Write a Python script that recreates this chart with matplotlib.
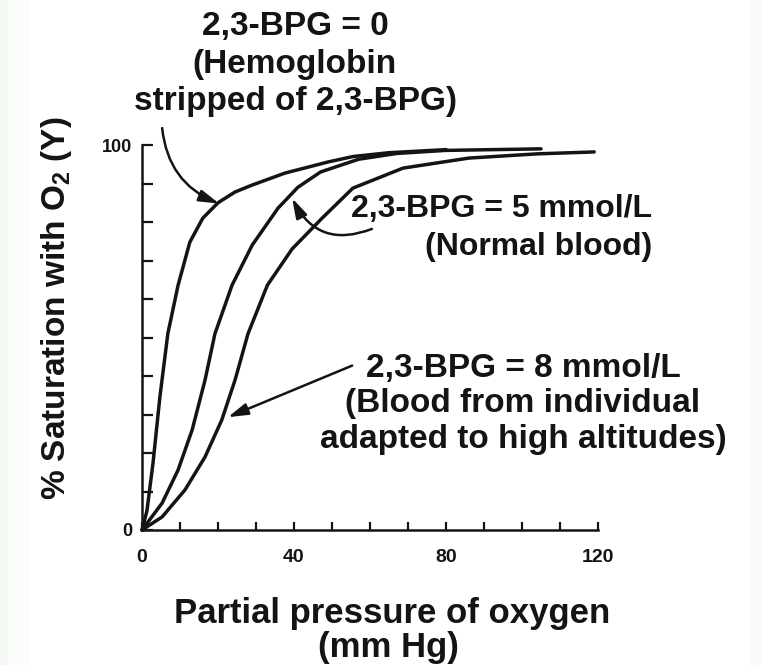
import matplotlib
matplotlib.use("Agg")
import matplotlib.pyplot as plt
from matplotlib.ticker import MultipleLocator, FixedLocator
from matplotlib.patches import Rectangle

plt.rcParams['font.family'] = ['Liberation Sans', 'DejaVu Sans']
plt.rcParams['font.weight'] = 'bold'
plt.rcParams['mathtext.fontset'] = 'custom'
plt.rcParams['mathtext.rm'] = 'Liberation Sans:bold'
plt.rcParams['mathtext.default'] = 'rm'

# ---- data ----
bpg0_x = [0, 1.3, 2.9, 4.7, 6.8, 9.5, 12.6, 16.0, 20.0, 24.5, 29.0, 37.6, 49.0, 55.5, 65.0, 80.0]
bpg0_y = [0, 5.0, 17.4, 34.5, 51.0, 63.6, 74.8, 81.0, 85.0, 87.8, 89.6, 92.7, 95.6, 97.0, 98.0, 98.8]

bpg5_x = [0, 5.3, 9.5, 13.2, 16.6, 19.2, 23.7, 29.0, 35.8, 41.0, 47.0, 57.0, 67.0, 80.0, 105.0]
bpg5_y = [0, 7.0, 15.6, 26.0, 39.0, 51.0, 63.6, 74.0, 83.6, 89.0, 93.0, 96.3, 97.8, 98.6, 99.0]

bpg8_x = [0, 5.3, 11.3, 16.6, 21.0, 24.5, 27.9, 33.0, 39.5, 47.4, 55.5, 68.7, 86.0, 104.0, 119.0]
bpg8_y = [0, 3.4, 10.4, 19.0, 28.6, 39.0, 51.0, 63.6, 73.0, 81.0, 88.8, 94.0, 96.6, 97.7, 98.2]

x_major_ticks = [0, 40, 80, 120]
x_tick_labels = ['0', '40', '80', '120']
y_major_ticks = [0, 100]
y_tick_labels = ['0', '100']

label_bpg0 = ['2,3-BPG = 0', '(Hemoglobin', 'stripped of 2,3-BPG)']
label_bpg5 = ['2,3-BPG = 5 mmol/L', '(Normal blood)']
label_bpg8 = ['2,3-BPG = 8 mmol/L', '(Blood from individual', 'adapted to high altitudes)']
xlabel_lines = ['Partial pressure of oxygen', '(mm Hg)']
ylabel_text = r'% Saturation with O$_2$ (Y)'

# ---- figure ----
W, H = 761, 665
fig = plt.figure(figsize=(W / 100, H / 100), dpi=100)
fig.patch.set_facecolor('white')

def fx(px):
    return px / W

def fy(py):
    return 1 - py / H

# faint green tint at the image edges (scan artefact in the reference)
for x0, w, a in [(0, 8, 0.10), (8, 10, 0.06), (18, 12, 0.03), (750, 11, 0.07)]:
    fig.patches.append(Rectangle((fx(x0), 0), fx(w), 1, transform=fig.transFigure,
                                 facecolor='#9ccf8a', alpha=a, edgecolor='none', zorder=0))

ax = fig.add_axes([fx(142), fy(530), fx(598) - fx(142), fy(145) - fy(530)])
ax.set_xlim(0, 120)
ax.set_ylim(0, 100)
ax.set_facecolor('none')

ink = '#141414'
for xs, ys in [(bpg0_x, bpg0_y), (bpg5_x, bpg5_y), (bpg8_x, bpg8_y)]:
    ax.plot(xs, ys, color=ink, lw=2.5, solid_capstyle='round', solid_joinstyle='round', clip_on=False)

for s in ['top', 'right']:
    ax.spines[s].set_visible(False)
for s in ['left', 'bottom']:
    ax.spines[s].set_linewidth(1.8)
    ax.spines[s].set_color(ink)

ax.xaxis.set_major_locator(FixedLocator(x_major_ticks))
ax.set_xticklabels(x_tick_labels)
ax.xaxis.set_minor_locator(MultipleLocator(10))
ax.yaxis.set_major_locator(FixedLocator(y_major_ticks))
ax.set_yticklabels(y_tick_labels)
ax.yaxis.set_minor_locator(MultipleLocator(10))

ax.tick_params(axis='x', which='both', direction='in', length=6, width=1.6, color=ink)
ax.tick_params(axis='y', which='both', direction='in', length=8, width=1.6, color=ink)
ax.tick_params(axis='x', which='major', labelsize=14, pad=14, labelcolor=ink)
ax.tick_params(axis='y', which='major', labelsize=13, pad=7, labelcolor=ink)

# ---- annotation texts ----
fs = 24
for txt, yb in zip(label_bpg0, [35, 73, 110]):
    fig.text(fx(295), fy(yb), txt, ha='center', va='baseline', fontsize=fs, color=ink)
for txt, yb in zip(label_bpg5, [217, 255]):
    fig.text(fx(652), fy(yb), txt, ha='right', va='baseline', fontsize=23, color=ink)
for txt, yb in zip(label_bpg8, [377, 412, 448]):
    fig.text(fx(523), fy(yb), txt, ha='center', va='baseline', fontsize=fs, color=ink)

for txt, yb, xc in zip(xlabel_lines, [623, 657], [392, 388]):
    fig.text(fx(xc), fy(yb), txt, ha='center', va='baseline', fontsize=25, color=ink)

fig.text(fx(57), fy(308), ylabel_text, rotation=90, ha='center', va='center', fontsize=24, color=ink)

# ---- arrows ----
arrow_kw = dict(arrowstyle='-|>,head_length=0.75,head_width=0.22', color=ink, lw=1.8,
                shrinkA=0, shrinkB=0, mutation_scale=16)
ax.annotate('', xy=(20.3, 84.8), xytext=(5.3, 104.4), annotation_clip=False,
            arrowprops=dict(connectionstyle='arc3,rad=0.3', **arrow_kw))
ax.annotate('', xy=(39.5, 86.2), xytext=(60.5, 78.2), annotation_clip=False,
            arrowprops=dict(connectionstyle='arc3,rad=-0.45', **arrow_kw))
ax.annotate('', xy=(22.6, 29.3), xytext=(55.3, 42.7), annotation_clip=False,
            arrowprops=dict(connectionstyle='arc3,rad=0', **arrow_kw))

fig.savefig('out.png', dpi=100)
